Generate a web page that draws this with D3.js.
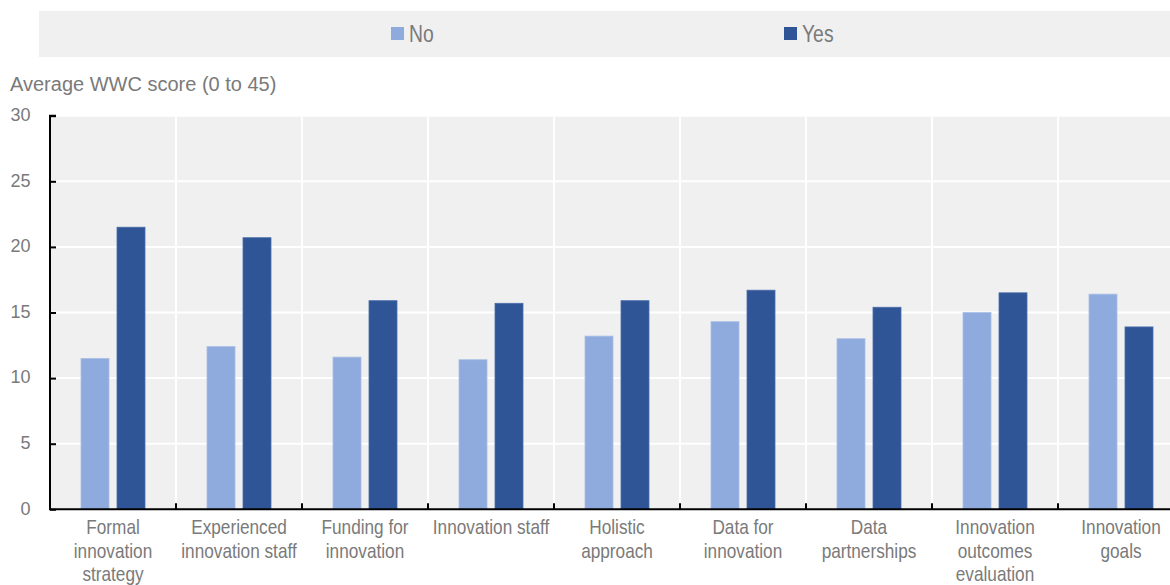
<!DOCTYPE html>
<html>
<head>
<meta charset="utf-8">
<script src="https://cdn.jsdelivr.net/npm/d3@7"></script>
<style>
  html, body { margin: 0; padding: 0; background: #ffffff; }
  svg { display: block; overflow: hidden; }
  text { font-family: "Liberation Sans", Arial, sans-serif; fill: #7a7a7a; }
</style>
</head>
<body>
<svg id="chart" width="1170" height="585"></svg>
<script>
// Innovation practices and the average WWC score of cities with / without them
const categories = [
  ["Formal", "innovation", "strategy"],
  ["Experienced", "innovation staff"],
  ["Funding for", "innovation"],
  ["Innovation staff"],
  ["Holistic", "approach"],
  ["Data for", "innovation"],
  ["Data", "partnerships"],
  ["Innovation", "outcomes", "evaluation"],
  ["Innovation", "goals"]
];
const seriesNames = ["No", "Yes"];
const noValues  = [11.5, 12.4, 11.6, 11.4, 13.2, 14.3, 13.0, 15.0, 16.4];
const yesValues = [21.5, 20.7, 15.9, 15.7, 15.9, 16.7, 15.4, 16.5, 13.9];
const yTicks = [0, 5, 10, 15, 20, 25, 30];
const axisTitle = "Average WWC score (0 to 45)";
const colors = ["#8faadc", "#2f5597"];

// condensed lettering: horizontal squeeze of the sans face
const NARROW = 0.82;

const svg = d3.select("#chart");
const margin = { left: 50, top: 115.7, bottom: 509.3 };
const bandStep = 126;
const plotRight = margin.left + bandStep * categories.length;

const ids = categories.map((c, i) => i);
const x = d3.scaleBand().domain(ids).range([margin.left, plotRight]).padding(0);
const x1 = d3.scaleBand().domain(seriesNames).range([31, 95]).paddingInner(8 / 36).paddingOuter(0);
const y = d3.scaleLinear().domain([0, 30]).range([margin.bottom, margin.top]);

// Legend strip
svg.append("rect").attr("x", 39).attr("y", 11).attr("width", 1170 - 39).attr("height", 46).attr("fill", "#f0f0f0");
const legendX = [391, 784];
seriesNames.forEach((name, i) => {
  svg.append("rect").attr("x", legendX[i]).attr("y", 27).attr("width", 13).attr("height", 13).attr("fill", colors[i]);
  svg.append("text").attr("transform", `translate(${legendX[i] + 18},41.7) scale(0.79,1)`)
    .attr("font-size", 24.5).text(name);
});

// Plot background
svg.append("rect").attr("x", margin.left).attr("y", margin.top)
  .attr("width", plotRight - margin.left).attr("height", margin.bottom - margin.top).attr("fill", "#f0f0f0");

// Horizontal gridlines
svg.append("g").selectAll("line").data(yTicks.filter(t => t > 0)).join("line")
  .attr("x1", margin.left).attr("x2", plotRight)
  .attr("y1", d => y(d)).attr("y2", d => y(d))
  .attr("stroke", "#ffffff").attr("stroke-width", 2);

// Vertical separators between categories
svg.append("g").selectAll("line").data(ids.slice(1)).join("line")
  .attr("x1", d => x(d)).attr("x2", d => x(d))
  .attr("y1", margin.top).attr("y2", margin.bottom)
  .attr("stroke", "#ffffff").attr("stroke-width", 2);

// Bars
const rows = ids.map(i => ({ i, values: [noValues[i], yesValues[i]] }));
const groups = svg.append("g").selectAll("g").data(rows).join("g")
  .attr("transform", d => `translate(${x(d.i)},0)`);
groups.selectAll("rect").data(d => d.values.map((v, k) => ({ k, v }))).join("rect")
  .attr("x", d => x1(seriesNames[d.k]))
  .attr("width", x1.bandwidth())
  .attr("y", d => y(d.v))
  .attr("height", d => y(0) - y(d.v))
  .attr("fill", d => colors[d.k])
  .attr("stroke", d => d.k === 0 ? "#a9bfe6" : "#4a6eaa")
  .attr("stroke-width", 0.8);

// Y axis
const yAxis = svg.append("g").attr("transform", `translate(${margin.left},0)`)
  .call(d3.axisRight(y).tickValues(yTicks).tickSize(6).tickFormat(""));
yAxis.select(".domain").attr("stroke", "#000").attr("stroke-width", 2)
  .attr("d", `M6,${margin.top}H0V${margin.bottom}`);
yAxis.selectAll(".tick line").attr("stroke", "#000").attr("stroke-width", 2);
svg.append("g").selectAll("text").data(yTicks).join("text")
  .attr("x", 30.5).attr("y", d => y(d) - 1).attr("dy", "0.35em")
  .attr("text-anchor", "end").attr("font-size", 18).text(d => d);

// X axis with inward tick marks at category boundaries
const xAxisG = svg.append("g");
xAxisG.append("line").attr("x1", margin.left - 1).attr("x2", plotRight)
  .attr("y1", margin.bottom).attr("y2", margin.bottom).attr("stroke", "#000").attr("stroke-width", 2);
xAxisG.selectAll("line.tk").data(ids.slice(1)).join("line").attr("class", "tk")
  .attr("x1", d => x(d)).attr("x2", d => x(d))
  .attr("y1", margin.bottom).attr("y2", margin.bottom - 6)
  .attr("stroke", "#000").attr("stroke-width", 2);

// Category labels
const labels = svg.append("g").selectAll("text").data(ids).join("text")
  .attr("transform", d => `translate(${x(d) + x.bandwidth() / 2},0) scale(${NARROW},1)`)
  .attr("text-anchor", "middle").attr("font-size", 21);
labels.selectAll("tspan").data(d => categories[d].map((t, k) => ({ t, k }))).join("tspan")
  .attr("x", 0)
  .attr("y", d => 534.5 + d.k * 23.5)
  .text(d => d.t);

// Axis title
svg.append("text").attr("x", 10).attr("y", 91).attr("font-size", 20).text(axisTitle);
</script>
</body>
</html>
